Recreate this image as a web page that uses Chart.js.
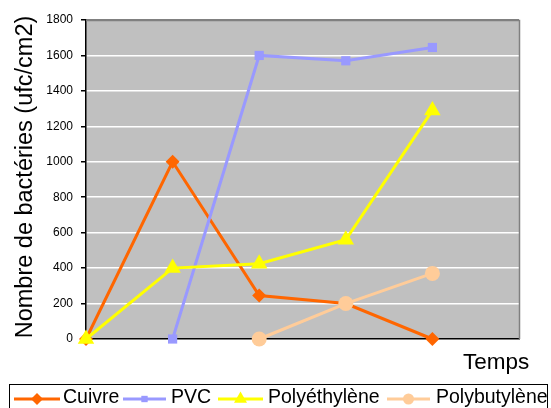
<!DOCTYPE html>
<html>
<head>
<meta charset="utf-8">
<script src="https://cdn.jsdelivr.net/npm/chart.js@4"></script>
<style>
  html, body { margin: 0; padding: 0; background: #fff; }
  #wrap { width: 551px; height: 408px; }
</style>
</head>
<body>
<div id="wrap"><canvas id="graphe" width="551" height="408"></canvas></div>
<script>
// Nombre de bactéries au cours du temps selon le matériau
var temps = ['1', '2', '3', '4', '5', ''];
var cuivre = [0, 1000, 245, 200, 0];
var pvc = [null, 0, 1600, 1570, 1645];
var polyethylene = [0, 400, 425, 560, 1290];
var polybutylene = [null, null, 0, 200, 370];
var graduations = [0, 200, 400, 600, 800, 1000, 1200, 1400, 1600, 1800];

var police = '"Liberation Sans", Arial, sans-serif';

// fond gris, cadre, titres et légende dessinés à la main
var decor = {
  id: 'decor',
  beforeDraw: function (chart) {
    var ctx = chart.ctx, a = chart.chartArea;
    ctx.save();
    ctx.fillStyle = '#C0C0C0';
    ctx.fillRect(a.left, a.top, a.right - a.left, a.bottom - a.top);
    ctx.restore();
  },
  beforeDatasetsDraw: function (chart) {
    var ctx = chart.ctx, a = chart.chartArea;
    ctx.save();
    ctx.strokeStyle = '#808080';
    ctx.lineWidth = 1.5;
    ctx.beginPath();
    ctx.moveTo(a.left, a.top + 0.5);
    ctx.lineTo(a.right + 0.5, a.top + 0.5);
    ctx.lineTo(a.right + 0.5, a.bottom);
    ctx.stroke();
    ctx.restore();
  },
  afterDraw: function (chart) {
    var ctx = chart.ctx;
    ctx.save();
    ctx.fillStyle = '#000';
    // titre axe Y
    ctx.font = '23.5px ' + police;
    ctx.textAlign = 'center';
    ctx.textBaseline = 'middle';
    ctx.translate(26, 177);
    ctx.rotate(-Math.PI / 2);
    ctx.fillText('Nombre de bactéries (ufc/cm2)', 0, 0);
    ctx.restore();

    ctx.save();
    ctx.fillStyle = '#000';
    ctx.font = '22.5px ' + police;
    ctx.textAlign = 'left';
    ctx.textBaseline = 'middle';
    ctx.fillText('Temps', 463, 363);

    // légende
    ctx.strokeStyle = '#000';
    ctx.lineWidth = 1;
    ctx.strokeRect(9.5, 384.5, 538, 30);
    var pos = [[14, 60, 63], [123, 166, 171], [218, 263, 268], [387, 430, 436]];
    var tailles = [6, 4.5, 7.5, 5.5];
    ctx.font = '19.5px ' + police;
    chart.data.datasets.forEach(function (ds, i) {
      var p = pos[i], y = 399;
      ctx.strokeStyle = ds.borderColor;
      ctx.fillStyle = ds.borderColor;
      ctx.lineWidth = 3;
      ctx.beginPath();
      ctx.moveTo(p[0], y);
      ctx.lineTo(p[1], y);
      ctx.stroke();
      Chart.helpers.drawPoint(ctx, { pointStyle: ds.pointStyle, radius: tailles[i], rotation: 0, borderWidth: 0 }, (p[0] + p[1]) / 2, y);
      ctx.fillStyle = '#000';
      ctx.fillText(ds.label, p[2], 398);
    });
    ctx.restore();
  }
};

var ctx = document.getElementById('graphe').getContext('2d');
var graphe = new Chart(ctx, {
  type: 'line',
  data: {
    labels: temps,
    datasets: [
      { label: 'Cuivre', data: cuivre, borderColor: '#FF6600', backgroundColor: '#FF6600', pointStyle: 'rectRot', pointRadius: 7, order: 4 },
      { label: 'PVC', data: pvc, borderColor: '#9999FF', backgroundColor: '#9999FF', pointStyle: 'rect', pointRadius: 6.5, order: 3 },
      { label: 'Polyéthylène', data: polyethylene, borderColor: '#FFFF00', backgroundColor: '#FFFF00', pointStyle: 'triangle', pointRadius: 9.5, order: 2 },
      { label: 'Polybutylène', data: polybutylene, borderColor: '#FFCC99', backgroundColor: '#FFCC99', pointStyle: 'circle', pointRadius: 7.5, order: 1 }
    ].map(function (d) {
      d.borderWidth = 3;
      d.pointBorderWidth = 0;
      d.tension = 0;
      d.clip = false;
      d.spanGaps = false;
      return d;
    })
  },
  options: {
    responsive: false,
    animation: false,
    layout: { padding: { left: 0, top: 20, right: 32, bottom: 69 } },
    plugins: { legend: { display: false }, tooltip: { enabled: false } },
    scales: {
      x: {
        type: 'category',
        offset: false,
        grid: { display: false },
        ticks: { display: false },
        border: { display: true, color: '#000', width: 1.5 },
        afterFit: function (s) { s.height = 0; }
      },
      y: {
        min: 0,
        max: 1800,
        afterBuildTicks: function (s) { s.ticks = graduations.map(function (v) { return { value: v }; }); },
        afterFit: function (s) { s.width = 86; },
        grid: {
          color: function (c) { return c.tick && c.tick.value === 1800 ? '#808080' : '#FFFFFF'; },
          lineWidth: 1.5,
          tickLength: 5,
          tickColor: '#000'
        },
        border: { display: true, color: '#000', width: 1.5 },
        ticks: {
          padding: 8,
          color: '#000',
          font: { family: police, size: 12 },
          callback: function (v) { return String(v); }
        }
      }
    }
  },
  plugins: [decor]
});
</script>
</body>
</html>
